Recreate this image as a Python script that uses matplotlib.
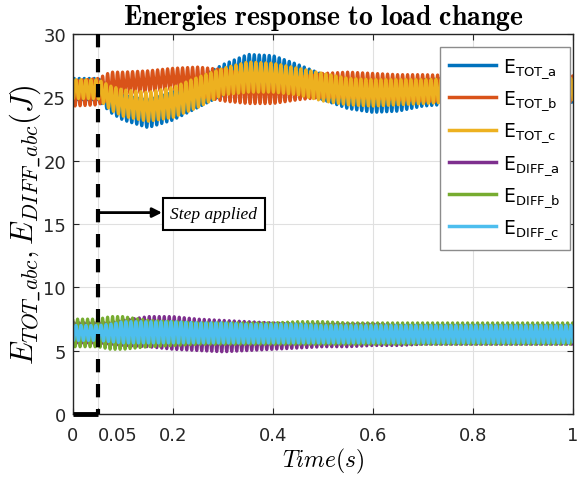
import numpy as np
import matplotlib
matplotlib.use("Agg")
import matplotlib.pyplot as plt

# ---- data (envelopes of the ripple) ----
T_ENV = [0, 0.05, 0.075, 0.1, 0.15, 0.2, 0.25, 0.3, 0.35, 0.4, 0.45, 0.5, 0.55, 0.6, 0.65, 0.7, 0.8, 0.9, 1.0]

TOT_a_hi = [26.5, 26.5, 25.8, 25.2, 24.8, 25.4, 26.5, 27.6, 28.4, 28.3, 27.6, 26.8, 26.3, 26.0, 26.1, 26.4, 26.6, 26.6, 26.6]
TOT_a_lo = [24.8, 24.8, 23.8, 23.2, 22.6, 23.2, 24.2, 25.2, 25.9, 26.0, 25.5, 24.8, 24.1, 23.8, 23.9, 24.3, 24.6, 24.6, 24.6]
TOT_b_hi = [26.3, 26.5, 27.0, 27.0, 27.1, 27.3, 27.4, 27.2, 26.8, 26.6, 26.6, 26.9, 27.0, 26.9, 26.8, 26.8, 26.7, 26.7, 26.7]
TOT_b_lo = [24.3, 24.4, 24.9, 25.2, 25.4, 25.6, 25.1, 24.7, 24.5, 24.5, 24.8, 25.0, 25.0, 24.9, 24.8, 24.7, 24.6, 24.6, 24.6]
TOT_c_hi = [26.4, 26.4, 25.9, 25.6, 25.4, 25.8, 26.6, 27.3, 27.8, 27.7, 27.3, 26.9, 26.5, 26.4, 26.4, 26.4, 26.5, 26.5, 26.5]
TOT_c_lo = [24.9, 24.9, 24.0, 23.5, 23.1, 23.4, 24.2, 25.2, 25.4, 25.4, 25.2, 24.7, 24.4, 24.3, 24.4, 24.5, 24.7, 24.7, 24.7]

DIFF_a_hi = [7.2, 7.2, 7.2, 7.4, 7.7, 7.7, 7.5, 7.4, 7.3, 7.2, 7.1, 7.1, 7.1, 7.1, 7.0, 7.0, 7.0, 7.0, 7.0]
DIFF_a_lo = [5.6, 5.6, 5.5, 5.4, 5.3, 5.1, 5.0, 4.9, 5.0, 5.1, 5.2, 5.3, 5.3, 5.4, 5.4, 5.5, 5.5, 5.5, 5.5]
DIFF_b_hi = [7.5, 7.5, 7.7, 7.7, 7.4, 7.3, 7.2, 7.2, 7.2, 7.2, 7.3, 7.3, 7.2, 7.2, 7.2, 7.2, 7.2, 7.2, 7.2]
DIFF_b_lo = [5.3, 5.3, 5.1, 5.1, 5.3, 5.4, 5.5, 5.5, 5.5, 5.5, 5.5, 5.5, 5.5, 5.5, 5.5, 5.5, 5.5, 5.5, 5.5]
DIFF_c_hi = [7.0, 7.0, 7.1, 7.3, 7.3, 7.3, 7.2, 7.2, 7.1, 7.1, 7.1, 7.0, 7.0, 7.0, 7.0, 7.0, 7.0, 7.0, 7.0]
DIFF_c_lo = [5.8, 5.8, 5.7, 5.6, 5.6, 5.6, 5.6, 5.6, 5.6, 5.6, 5.6, 5.6, 5.6, 5.6, 5.6, 5.6, 5.6, 5.6, 5.6]

RIPPLE_HZ = 100          # ripple frequency (~5 px per cycle)
STEP_TIME = 0.05
STEP_LEVEL = 30
ARROW_Y = 15.9

LABELS = ['E$_{\\mathregular{TOT\\_a}}$', 'E$_{\\mathregular{TOT\\_b}}$', 'E$_{\\mathregular{TOT\\_c}}$',
          'E$_{\\mathregular{DIFF\\_a}}$', 'E$_{\\mathregular{DIFF\\_b}}$', 'E$_{\\mathregular{DIFF\\_c}}$']
XTICKS = [0, 0.05, 0.2, 0.4, 0.6, 0.8, 1]
XTICKLABELS = ['0', '0.05', '0.2', '0.4', '0.6', '0.8', '1']
YTICKS = [0, 5, 10, 15, 20, 25, 30]

COLORS = [(0, 0.447, 0.741), (0.85, 0.325, 0.098), (0.929, 0.694, 0.125),
          (0.494, 0.184, 0.556), (0.466, 0.674, 0.188), (0.301, 0.745, 0.933)]

series = [(TOT_a_hi, TOT_a_lo, 0), (TOT_b_hi, TOT_b_lo, 1), (TOT_c_hi, TOT_c_lo, 2),
          (DIFF_a_hi, DIFF_a_lo, 0), (DIFF_b_hi, DIFF_b_lo, 1), (DIFF_c_hi, DIFF_c_lo, 2)]

plt.rcParams['mathtext.fontset'] = 'cm'
plt.rcParams['font.family'] = ['DejaVu Sans']

fig = plt.figure(figsize=(5.78, 4.85), dpi=100)
ax = fig.add_axes([73 / 578, 1 - 415 / 485, (573 - 73) / 578, 380 / 485])

t = np.linspace(0, 1, 8000)
handles = []
for (hi, lo, ph), col, lab in zip(series, COLORS, LABELS):
    h = np.interp(t, T_ENV, hi)
    l = np.interp(t, T_ENV, lo)
    y = (h + l) / 2 + (h - l) / 2 * np.sin(2 * np.pi * RIPPLE_HZ * t + ph * 2 * np.pi / 3)
    ln, = ax.plot(t, y, color=col, lw=2.2, label=lab, solid_joinstyle='round')
    handles.append(ln)

# step marker
ax.plot([STEP_TIME, STEP_TIME], [STEP_LEVEL, 0], color='k', lw=3, dashes=(3.2, 2.8), zorder=5)
ax.plot([0, STEP_TIME], [0, 0], color='k', lw=3.5, solid_capstyle='butt', zorder=5, clip_on=False)

ax.annotate('', xy=(0.178, ARROW_Y), xytext=(STEP_TIME, ARROW_Y),
            arrowprops=dict(arrowstyle='-|>', lw=2, color='k', mutation_scale=14,
                            shrinkA=0, shrinkB=0), zorder=6)
ax.text(0.282, 15.8, 'Step applied', ha='center', va='center', fontsize=12.5,
        family='Liberation Serif', style='italic',
        bbox=dict(boxstyle='square,pad=0.45', fc='white', ec='k', lw=1.5), zorder=6)

ax.set_xlim(0, 1)
ax.set_ylim(0, 30)
ax.set_xticks(XTICKS)
ax.set_xticklabels(XTICKLABELS)
ax.set_yticks(YTICKS)
ax.tick_params(direction='in', top=True, right=True, labelsize=13, colors=(0.15, 0.15, 0.15),
               length=4)
ax.tick_params(axis='x', pad=9)
ax.tick_params(axis='y', pad=5)
ax.get_xticklabels()[1].set_horizontalalignment('left')
for s in ax.spines.values():
    s.set_color((0.15, 0.15, 0.15))
    s.set_linewidth(1.0)
ax.grid(True, color=(0.88, 0.88, 0.88), lw=0.8)
ax.set_axisbelow(True)

ax.set_title(r'$\mathbf{Energies\ response\ to\ load\ change}$', fontsize=20, pad=7)
ax.set_xlabel(r'$Time(s)$', fontsize=17, labelpad=1)
ax.set_ylabel(r'$E_{TOT\_abc}, E_{DIFF\_abc}(J)$', fontsize=22, labelpad=0)

leg = ax.legend(handles=handles, loc='upper right', bbox_to_anchor=(0.994, 0.966),
                borderaxespad=0, fontsize=13.5, handlelength=2.5, handletextpad=0.4,
                labelspacing=0.45, fancybox=False, framealpha=1, edgecolor=(0.55, 0.55, 0.55),
                borderpad=0.5)
for txt in leg.get_texts():
    txt.set_math_fontfamily('dejavusans')
for lh in leg.get_lines():
    lh.set_linewidth(2.5)
leg.get_frame().set_linewidth(1.0)

fig.savefig('out.png', dpi=100)
